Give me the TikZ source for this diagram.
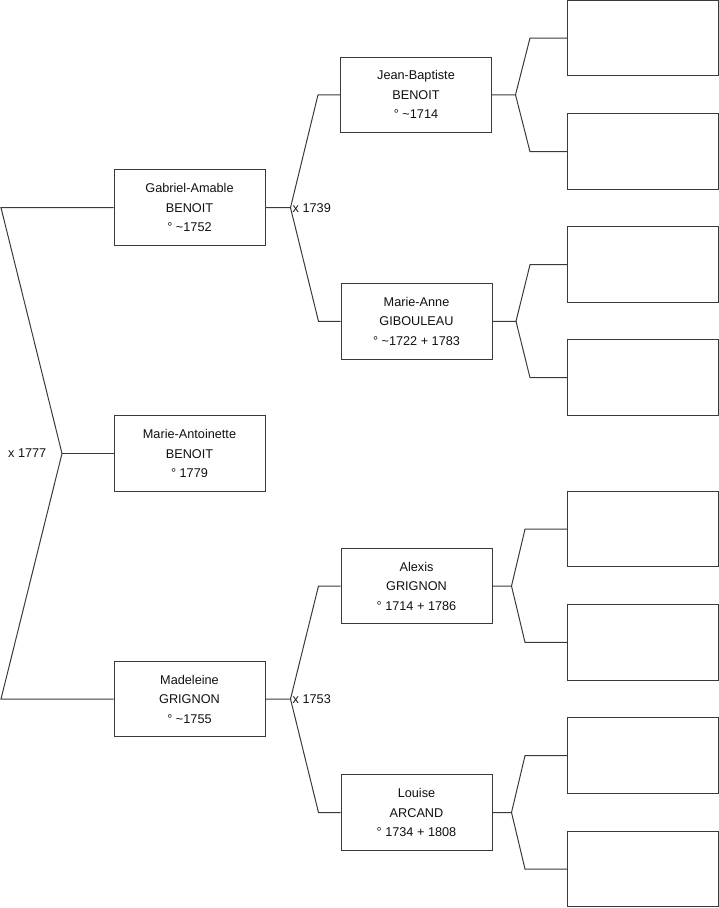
\documentclass[tikz,border=0pt]{standalone}
\usepackage{fontspec}
\setmainfont{Liberation Sans}
\usepackage{tikz}
\usetikzlibrary{positioning,calc}
\definecolor{ink}{HTML}{111111}
\definecolor{linegray}{HTML}{3A3A3A}
\tikzset{
  person/.style={draw=linegray, fill=white, line width=1bp, minimum width=151bp, minimum height=75.5bp,
    inner sep=0pt, align=center, text=ink, font=\fontsize{12.7bp}{19.5bp}\selectfont},
  blank/.style={person},
  link/.style={draw=linegray, line width=1bp},
  wed/.style={inner sep=0pt, text=ink, font=\fontsize{12.7bp}{14bp}\selectfont}
}

\begin{document}
\begin{tikzpicture}[x=1bp,y=1bp]
  \useasboundingbox (0,0) rectangle (719,-908);

  % generation 1 and 2
  \node[person] (gabriel) at (189.5,-207.7) {Gabriel-Amable\\BENOIT\\° \textasciitilde1752};
  \node[person] (antoinette) at (189.5,-453.5) {Marie-Antoinette\\BENOIT\\° 1779};
  \node[person] (madeleine) at (189.5,-699) {Madeleine\\GRIGNON\\° \textasciitilde1755};

  % generation 3
  \node[person] (jean) at (416,-94.8) {Jean-Baptiste\\BENOIT\\° \textasciitilde1714};
  \node[person] (marieanne) at (416.5,-321.3) {Marie-Anne\\GIBOULEAU\\° \textasciitilde1722 + 1783};
  \node[person] (alexis) at (416.5,-586) {Alexis\\GRIGNON\\° 1714 + 1786};
  \node[person] (louise) at (416.5,-812.5) {Louise\\ARCAND\\° 1734 + 1808};

  % generation 4, empty
  \foreach \n/\y in {1/38,2/151.7,3/264.7,4/377.7,5/529.2,6/642.3,7/755.7,8/869}{
    \node[blank] (e\n) at (643,-\y) {};
  }

  % root fork
  \coordinate (rtop) at (1,-207.7);
  \coordinate (rbot) at (1,-699);
  \coordinate (f1777) at (62,-453.5);
  \draw[link] (gabriel.west) -- (rtop) -- (f1777) -- (rbot) -- (madeleine.west);
  \draw[link] (f1777) -- (antoinette.west);
  \node[wed,anchor=east] (m1777) at (46.5,-453.5) {x 1777};

  % parents forks
  \coordinate (f1739) at (290.5,-207.7);
  \draw[link] (gabriel.east) -- (f1739) -- ([xshift=-22bp]jean.west) -- (jean.west);
  \draw[link] (f1739) -- ([xshift=-22bp]marieanne.west) -- (marieanne.west);
  \node[wed,anchor=west] (m1739) at (292.5,-207.7) {x 1739};

  \coordinate (f1753) at (290.5,-699);
  \draw[link] (madeleine.east) -- (f1753) -- ([xshift=-22bp]alexis.west) -- (alexis.west);
  \draw[link] (f1753) -- ([xshift=-22bp]louise.west) -- (louise.west);
  \node[wed,anchor=west] (m1753) at (292.5,-699) {x 1753};

  % grandparents forks
  \foreach \p/\a/\b/\d/\k in {jean/1/2/23.5/37, marieanne/3/4/23.5/37, alexis/5/6/19/42, louise/7/8/19/42}{
    \coordinate (f\p) at ([xshift=\d bp]\p.east);
    \draw[link] (\p.east) -- (f\p) -- ([xshift=-\k bp]e\a.west) -- (e\a.west);
    \draw[link] (f\p) -- ([xshift=-\k bp]e\b.west) -- (e\b.west);
  }
\end{tikzpicture}
\end{document}
